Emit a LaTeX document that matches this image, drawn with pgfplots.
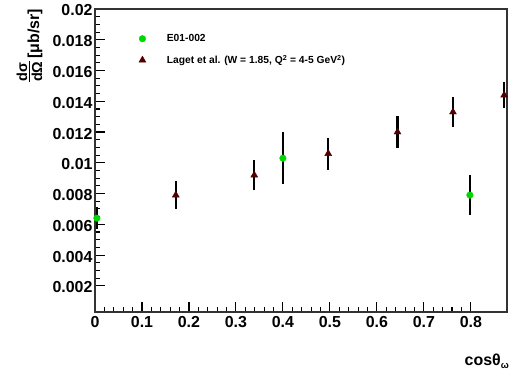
\documentclass[border=0pt]{standalone}
\usepackage{fontspec}
\setmainfont{Liberation Sans}
\usepackage{pgfplots}
\pgfplotsset{compat=1.18}
\usepackage{pgfplotstable}
\definecolor{rootgreen}{RGB}{0,215,0}
\definecolor{lagetred}{RGB}{80,0,0}
\pgfplotstableread{
x y ey
0.004 0.0064 0.0007
0.400 0.0103 0.0017
0.798 0.0079 0.0013
}\eodata
\pgfplotstableread{
x y ey
0.172 0.0079 0.0009
0.339 0.0092 0.0010
0.4965 0.0106 0.00104
0.644 0.0120 0.00106
0.762 0.0133 0.0010
0.871 0.0144 0.00085
}\lagetdata
\begin{document}
\begin{tikzpicture}
\useasboundingbox (0,0) rectangle (515bp,370bp);
\begin{axis}[
  at={(95bp,58bp)}, anchor=south west,
  scale only axis, width=412bp, height=303bp,
  xmin=0, xmax=0.877, ymin=0.0003, ymax=0.02,
  scaled x ticks=false, scaled y ticks=false,
  xtick={0,0.1,0.2,0.3,0.4,0.5,0.6,0.7,0.8},
  xticklabels={0,0.1,0.2,0.3,0.4,0.5,0.6,0.7,0.8},
  ytick={0.002,0.004,0.006,0.008,0.01,0.012,0.014,0.016,0.018,0.02},
  yticklabels={0.002,0.004,0.006,0.008,0.01,0.012,0.014,0.016,0.018,0.02},
  minor x tick num=4, minor y tick num=3,
  tick pos=left, tick align=inside,
  major tick length=10bp, minor tick length=5bp,
  every tick/.style={black, line width=1.1bp},
  axis line style={black!80, line width=1.1bp},
  tick label style={font=\fontsize{16}{16}\selectfont\bfseries},
  /pgf/number format/assume math mode=true,
  xticklabel style={yshift=-1bp},
  yticklabel style={xshift=1bp, yshift=-1.5bp},
  legend style={draw=none, fill=none, at={(rel axis cs:0.099,0.93)}, anchor=north west,
    font=\fontsize{10.3}{11}\selectfont\bfseries, row sep=8bp, column sep=19bp},
  legend cell align=left,
  clip=false,
]
\addplot[only marks, mark=*, mark size=3.3bp, color=rootgreen,
  error bars/.cd, y dir=both, y explicit,
  error bar style={black, line width=2.3bp}, error mark=none]
  table[x=x, y=y, y error=ey] {\eodata};
\addlegendentry{E01-002}
\addplot[only marks, mark=triangle*, mark size=4bp, color=lagetred,
  error bars/.cd, y dir=both, y explicit,
  error bar style={black, line width=2.3bp}, error mark=none]
  table[x=x, y=y, y error=ey] {\lagetdata};
\addlegendentry{Laget et al. (W = 1.85, Q\textsuperscript{2} = 4-5 GeV\textsuperscript{2})}
\end{axis}
\node[rotate=90, anchor=base east, inner sep=0pt, font=\fontsize{16}{16}\selectfont\bfseries]
  at (39bp,361bp) {\raisebox{-3bp}{\fontsize{14.5}{14.5}\selectfont\bfseries\vbox{\halign{\hfil#\hfil\cr dσ\cr\noalign{\kern1.5bp\hrule height 1.3bp\kern1.5bp} dΩ\cr}}}\,[μb/sr]};
\node[anchor=base east, inner sep=0pt, font=\fontsize{16}{16}\selectfont\bfseries]
  at (509bp,5bp) {cosθ\raisebox{-3.5bp}{\fontsize{9.5}{9.5}\selectfont ω}};
\end{tikzpicture}
\end{document}
